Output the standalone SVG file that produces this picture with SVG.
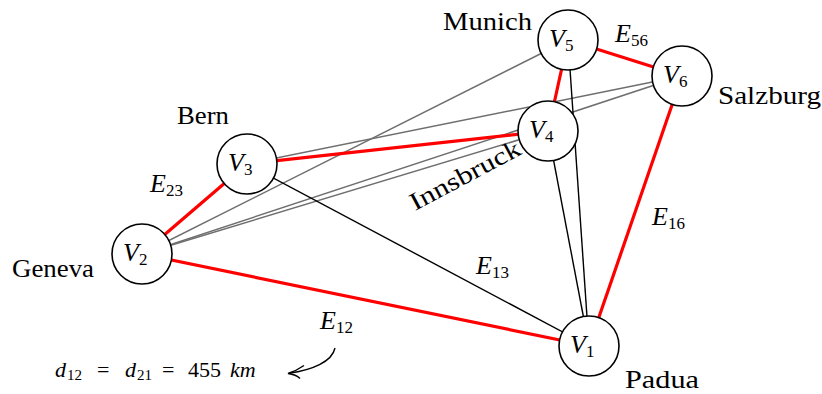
<svg xmlns="http://www.w3.org/2000/svg" width="822" height="394" viewBox="0 0 822 394">
<style>
  .red{stroke:#ff0000;stroke-width:3.2;fill:none}
  .gray{stroke:#6e6e6e;stroke-width:1.5;fill:none}
  .blk{stroke:#000;stroke-width:1.4;fill:none}
  .node circle{fill:#fff;stroke:#000;stroke-width:1.6}
  .lbl{font-size:25px;fill:#000}
  .math{font-size:26px;fill:#000}
  .it{font-style:italic}
  .sub{font-size:17px}
</style>
<rect width="822" height="394" fill="#fff"/>
<g id="connectors">
  <line class="gray" x1="142" y1="254" x2="568" y2="40"/>
  <line class="gray" x1="142" y1="254" x2="682" y2="76"/>
  <line class="gray" x1="142" y1="254" x2="548" y2="131"/>
  <line class="gray" x1="247" y1="164" x2="682" y2="76"/>
  <line class="blk" x1="247" y1="164" x2="589" y2="346"/>
  <line class="blk" x1="548" y1="131" x2="589" y2="346"/>
  <line class="blk" x1="568" y1="40" x2="589" y2="346"/>
  <line class="red" x1="142" y1="254" x2="589" y2="346"/>
  <line class="red" x1="142" y1="254" x2="247" y2="164"/>
  <line class="red" x1="247" y1="164" x2="548" y2="131"/>
  <line class="red" x1="548" y1="131" x2="568" y2="40"/>
  <line class="red" x1="568" y1="40" x2="682" y2="76"/>
  <line class="red" x1="682" y1="76" x2="589" y2="346"/>
  <path class="blk" d="M335,348 C332,362 312,370 289,373.3"/>
  <path class="blk" d="M304,365.5 Q296,371 288,373.5 Q296,374.5 300,378.5"/>
</g>
<g font-family="Liberation Serif, DejaVu Serif, serif">
<g id="V1" class="node">
  <circle cx="589" cy="346" r="30"/>
  <text class="math" x="570" y="353"><tspan class="it">V</tspan><tspan class="sub" dy="4">1</tspan></text>
</g>
<g id="V2" class="node">
  <circle cx="142" cy="254" r="30"/>
  <text class="math" x="123" y="261"><tspan class="it">V</tspan><tspan class="sub" dy="4">2</tspan></text>
</g>
<g id="V3" class="node">
  <circle cx="247" cy="164" r="30"/>
  <text class="math" x="228" y="171"><tspan class="it">V</tspan><tspan class="sub" dy="4">3</tspan></text>
</g>
<g id="V4" class="node">
  <circle cx="548" cy="131" r="30"/>
  <text class="math" x="529" y="138"><tspan class="it">V</tspan><tspan class="sub" dy="4">4</tspan></text>
</g>
<g id="V5" class="node">
  <circle cx="568" cy="40" r="30"/>
  <text class="math" x="549" y="47"><tspan class="it">V</tspan><tspan class="sub" dy="4">5</tspan></text>
</g>
<g id="V6" class="node">
  <circle cx="682" cy="76" r="30"/>
  <text class="math" x="663" y="83"><tspan class="it">V</tspan><tspan class="sub" dy="4">6</tspan></text>
</g>
<g id="labels">
  <text class="lbl" x="12" y="277" textLength="82" lengthAdjust="spacingAndGlyphs">Geneva</text>
  <text class="lbl" x="177" y="124" textLength="52" lengthAdjust="spacingAndGlyphs">Bern</text>
  <text class="lbl" x="443" y="30" textLength="89" lengthAdjust="spacingAndGlyphs">Munich</text>
  <text class="lbl" x="718" y="104" textLength="103" lengthAdjust="spacingAndGlyphs">Salzburg</text>
  <text class="lbl" x="625" y="388" textLength="74" lengthAdjust="spacingAndGlyphs">Padua</text>
  <text class="lbl" transform="translate(415,211) rotate(-28)" x="0" y="0" textLength="122" lengthAdjust="spacingAndGlyphs">Innsbruck</text>
  <text class="math" x="150" y="192"><tspan class="it">E</tspan><tspan class="sub" dy="4">23</tspan></text>
  <text class="math" x="320" y="329"><tspan class="it">E</tspan><tspan class="sub" dy="4">12</tspan></text>
  <text class="math" x="476" y="274"><tspan class="it">E</tspan><tspan class="sub" dy="4">13</tspan></text>
  <text class="math" x="652" y="225"><tspan class="it">E</tspan><tspan class="sub" dy="4">16</tspan></text>
  <text class="math" x="615" y="42"><tspan class="it">E</tspan><tspan class="sub" dy="4">56</tspan></text>
  <text class="math" style="font-size:22px" y="377"><tspan class="it" x="55">d</tspan><tspan x="67" dy="3" style="font-size:15px">12</tspan><tspan x="97" dy="-3">=</tspan><tspan class="it" x="125">d</tspan><tspan x="137" dy="3" style="font-size:15px">21</tspan><tspan x="162" dy="-3">=</tspan><tspan x="188">455</tspan><tspan class="it" x="230">km</tspan></text>
</g>
</g>
</svg>
